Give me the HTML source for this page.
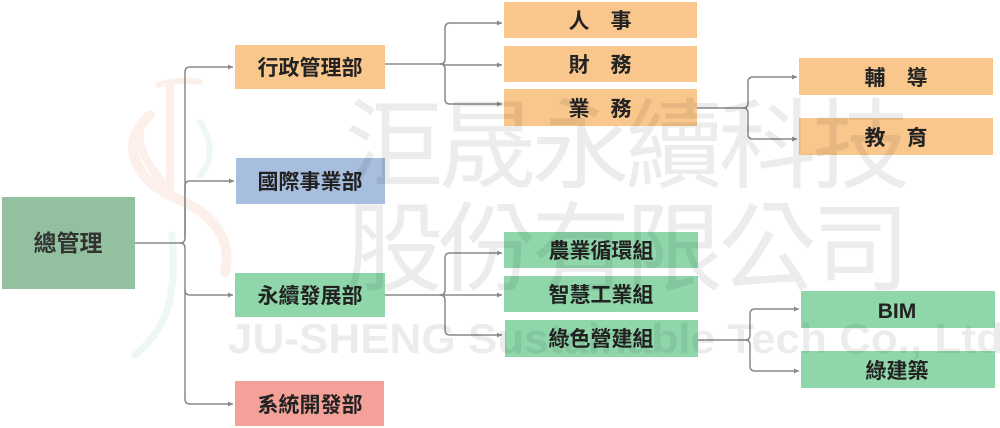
<!DOCTYPE html>
<html><head><meta charset="utf-8"><style>
html,body{margin:0;padding:0;background:#fff;}
svg{display:block;}
</style></head><body>
<svg width="1000" height="428" viewBox="0 0 1000 428" xmlns="http://www.w3.org/2000/svg">
<defs>
<marker id="a" markerWidth="6" markerHeight="6" refX="5" refY="3" orient="auto" markerUnits="userSpaceOnUse"><path d="M0,0.5 L5,3 L0,5.5 z" fill="#888"/></marker>
</defs>
<g fill="none" stroke-linecap="round">
<path d="M158,85 C175,80 190,80 200,82" stroke="#fdf0ea" stroke-width="6"/>
<path d="M170,85 L170,190 C140,160 130,130 150,115" stroke="#fdf0ea" stroke-width="8"/>
<path d="M150,115 C120,140 130,180 180,200 C225,220 230,250 225,272" stroke="#fdf0ea" stroke-width="10"/>
<path d="M200,122 C212,140 214,160 200,175" stroke="#eef6f6" stroke-width="6"/>
<path d="M172,235 C178,300 165,330 135,355" stroke="#eef6f6" stroke-width="7"/>
</g>
<g fill="none" stroke="#8a8a8a" stroke-width="1.5">
<path d="M135,243 H180 Q185,243 185,238 V72 Q185,67 190,67 H233" marker-end="url(#a)"/>
<path d="M185,238 V186 Q185,181 190,181 H234" marker-end="url(#a)"/>
<path d="M180,243 Q185,243 185,248 V290 Q185,295 190,295 H233" marker-end="url(#a)"/>
<path d="M185,290 V399 Q185,404 190,404 H233" marker-end="url(#a)"/>
<path d="M385,64 H440 Q445,64 445,59 V28 Q445,23 450,23 H502" marker-end="url(#a)"/>
<path d="M440,64 Q445,64 445,65 H502" marker-end="url(#a)"/>
<path d="M440,64 Q445,64 445,69 V99 Q445,104 450,104 H502" marker-end="url(#a)"/>
<path d="M697,108 H743 Q748,108 748,103 V82 Q748,77 753,77 H797" marker-end="url(#a)"/>
<path d="M743,108 Q748,108 748,113 V134 Q748,139 753,139 H797" marker-end="url(#a)"/>
<path d="M385,295 H440 Q445,295 445,290 V258 Q445,253 450,253 H502" marker-end="url(#a)"/>
<path d="M440,295 H502" marker-end="url(#a)"/>
<path d="M440,295 Q445,295 445,300 V330 Q445,335 450,335 H502" marker-end="url(#a)"/>
<path d="M698,340 H745 Q750,340 750,335 V314 Q750,309 755,309 H799" marker-end="url(#a)"/>
<path d="M745,340 Q750,340 750,345 V366 Q750,371 755,371 H799" marker-end="url(#a)"/>
</g>
<g font-family="'Liberation Sans','Noto Sans CJK TC',sans-serif" font-weight="bold" fill="#222" text-anchor="middle" font-size="21">
<rect x="2" y="197" width="133" height="92" fill="#93c1a0"/>
<text x="68" y="251" font-size="23" fill="#333">總管理</text>
<rect x="235" y="45" width="150" height="44" fill="#f9c68c"/>
<text x="310" y="75">行政管理部</text>
<rect x="236" y="158" width="149" height="46" fill="#a8bede"/>
<text x="310" y="189">國際事業部</text>
<rect x="235" y="273" width="150" height="44" fill="#8fd6aa"/>
<text x="310" y="303">永續發展部</text>
<rect x="235" y="381" width="149" height="45" fill="#f4a299"/>
<text x="310" y="412">系統開發部</text>
<rect x="504" y="2" width="193" height="36" fill="#f9c68c"/>
<text x="600" y="28">人　事</text>
<rect x="504" y="46" width="193" height="36" fill="#f9c68c"/>
<text x="600" y="72">財　務</text>
<rect x="504" y="89" width="193" height="37" fill="#f9c68c"/>
<text x="600" y="116">業　務</text>
<rect x="799" y="58" width="194" height="37" fill="#f9c68c"/>
<text x="896" y="85">輔　導</text>
<rect x="799" y="118" width="194" height="37" fill="#f9c68c"/>
<text x="896" y="145">教　育</text>
<rect x="504" y="232" width="194" height="36" fill="#8fd6aa"/>
<text x="601" y="258">農業循環組</text>
<rect x="504" y="276" width="194" height="36" fill="#8fd6aa"/>
<text x="601" y="302">智慧工業組</text>
<rect x="505" y="320" width="193" height="37" fill="#8fd6aa"/>
<text x="601" y="346">綠色營建組</text>
<rect x="801" y="291" width="194" height="37" fill="#8fd6aa"/>
<text x="897" y="318">BIM</text>
<rect x="801" y="351" width="194" height="37" fill="#8fd6aa"/>
<text x="897" y="378">綠建築</text>
</g>
<g fill="rgba(0,0,0,0.075)" font-family="'Liberation Sans','Noto Sans CJK TC',sans-serif">
<text x="345" y="180" font-size="98" textLength="565" lengthAdjust="spacing">洰晟永續科技</text>
<text x="345" y="283" font-size="98" textLength="565" lengthAdjust="spacing">股份有限公司</text>
<text x="228" y="353" font-size="42" font-weight="bold" textLength="775" lengthAdjust="spacingAndGlyphs">JU-SHENG Sustainable Tech Co., Ltd</text>
</g>
</svg>
</body></html>
